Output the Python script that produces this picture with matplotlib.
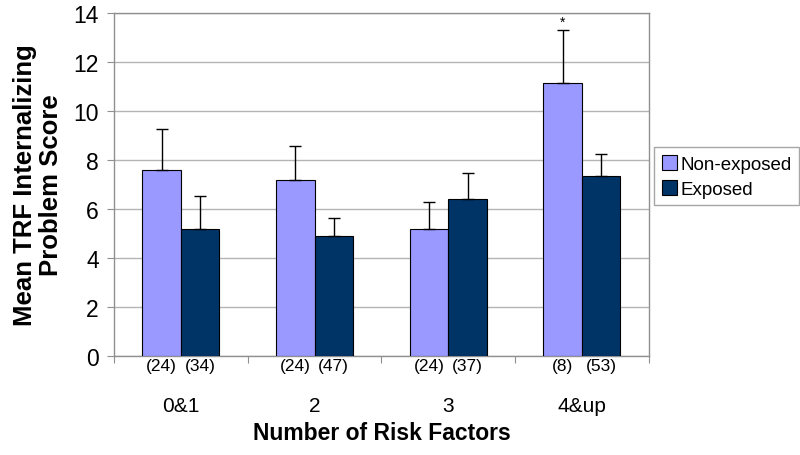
import matplotlib
matplotlib.use("Agg")
import matplotlib.pyplot as plt
import numpy as np

plt.rcParams['font.family'] = ['Liberation Sans', 'DejaVu Sans']

categories = ["0&1", "2", "3", "4&up"]
non_exposed = [7.6, 7.2, 5.2, 11.15]
non_exposed_err = [1.65, 1.38, 1.1, 2.15]
exposed = [5.2, 4.92, 6.43, 7.35]
exposed_err = [1.35, 0.72, 1.05, 0.9]
n_non_exposed = ["(24)", "(24)", "(24)", "(8)"]
n_exposed = ["(34)", "(47)", "(37)", "(53)"]
yticks = [0, 2, 4, 6, 8, 10, 12, 14]

fig = plt.figure(figsize=(8, 4.56), dpi=100)
ax = fig.add_axes([0.1425, 0.217, 0.6685, 0.752])

x = np.arange(len(categories))
w = 0.288
c_light = "#9999FF"
c_dark = "#003366"

ax.bar(x - w/2, non_exposed, w, color=c_light, edgecolor="black", linewidth=0.8,
       label="Non-exposed", zorder=3)
ax.bar(x + w/2, exposed, w, color=c_dark, edgecolor="black", linewidth=0.8,
       label="Exposed", zorder=3)
ax.errorbar(x - w/2, non_exposed, yerr=[np.zeros(4), non_exposed_err], fmt="none",
            ecolor="black", elinewidth=1, capsize=4.5, capthick=1, zorder=4)
ax.errorbar(x + w/2, exposed, yerr=[np.zeros(4), exposed_err], fmt="none",
            ecolor="black", elinewidth=1, capsize=4.5, capthick=1, zorder=4)

# star on 4&up non-exposed
ax.text(x[3] - w/2, non_exposed[3] + non_exposed_err[3] + 0.05, "*", ha="center",
        va="bottom", fontsize=10)

ax.set_xlim(-0.5, len(categories) - 0.5)
ax.set_ylim(0, 14)
ax.set_yticks(yticks)
ax.set_yticklabels([str(v) for v in yticks], fontsize=16.5)
ax.yaxis.grid(True, color="#b4b4b4", linewidth=1, zorder=0)
ax.set_axisbelow(True)

ax.set_xticks(np.arange(len(categories) + 1) - 0.5)
ax.set_xticklabels([])
ax.tick_params(axis="x", direction="out", length=5, color="#909090")
ax.tick_params(axis="y", direction="out", length=5, color="#909090", pad=6)

for s in ax.spines.values():
    s.set_color("#909090")
    s.set_linewidth(1)

for i in range(len(categories)):
    ax.text(x[i] - w/2, -0.38, n_non_exposed[i], ha="center", va="center", fontsize=12.5)
    ax.text(x[i] + w/2, -0.38, n_exposed[i], ha="center", va="center", fontsize=12.5)
    ax.text(x[i], -2.0, categories[i], ha="center", va="center", fontsize=15)

ax.set_xlabel("Number of Risk Factors", fontsize=16.5, fontweight="bold", labelpad=38)
ax.set_ylabel("Mean TRF Internalizing\nProblem Score", fontsize=18.5, fontweight="bold",
              labelpad=7, linespacing=1.12)

leg = fig.legend(loc="upper left", bbox_to_anchor=(0.8175, 0.675), fontsize=13.5,
                 frameon=True, fancybox=False, edgecolor="#909090",
                 handlelength=0.8, handleheight=0.9, handletextpad=0.2,
                 borderpad=0.4, labelspacing=0.35, borderaxespad=0)
leg.get_frame().set_linewidth(1)

fig.savefig("out.png", dpi=100)
